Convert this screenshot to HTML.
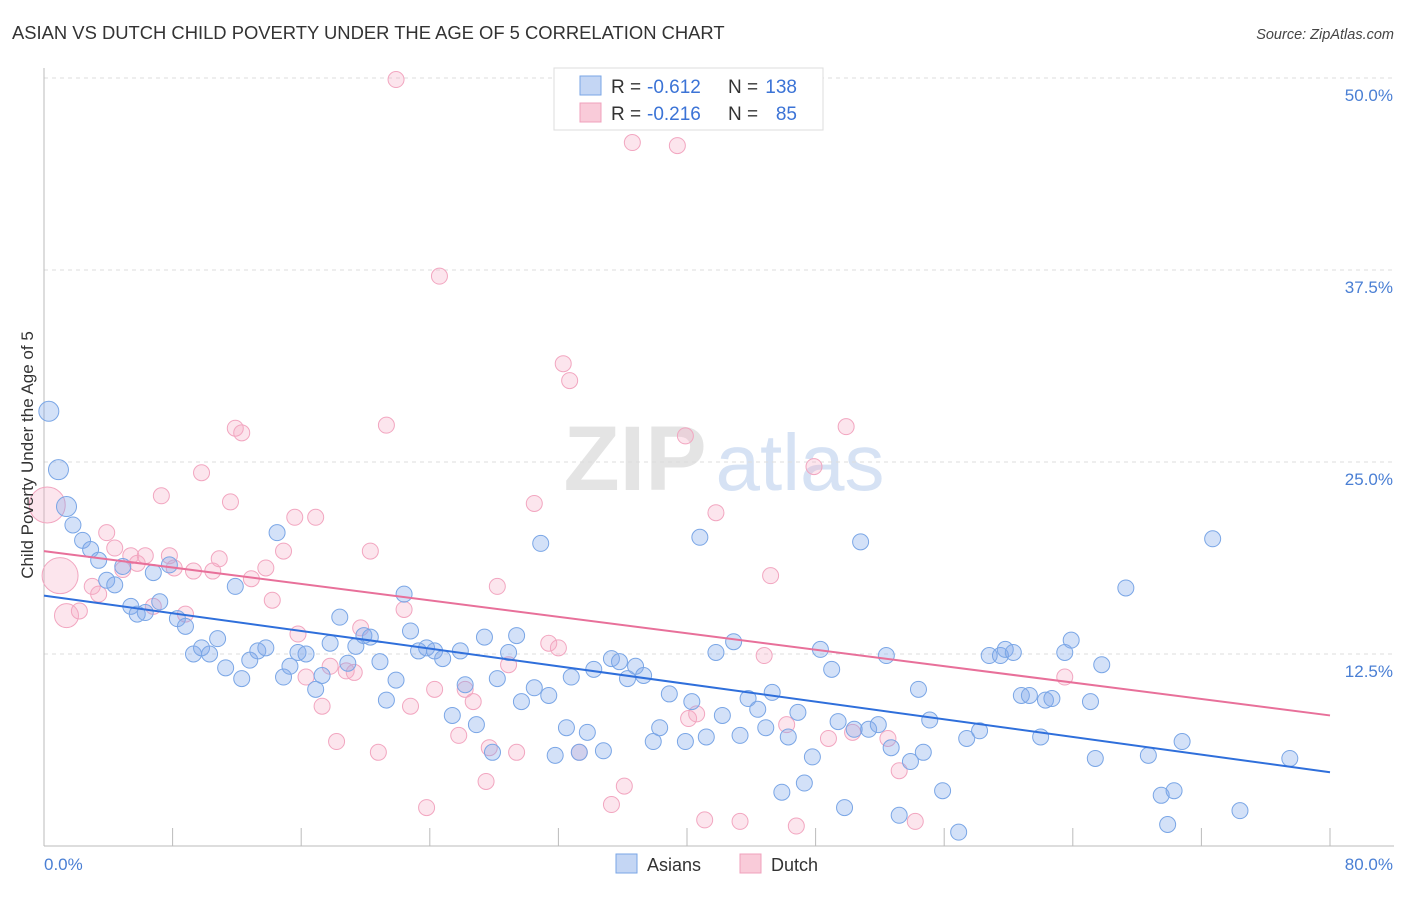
<!DOCTYPE html>
<html><head><meta charset="utf-8"><style>
body{margin:0;background:#fff;font-family:"Liberation Sans",sans-serif;}
svg text{font-family:"Liberation Sans",sans-serif;}
</style></head><body>
<svg id="chart" width="1406" height="892" viewBox="0 0 1406 892" xmlns="http://www.w3.org/2000/svg">
<text x="12" y="39" font-size="18.4" fill="#333">ASIAN VS DUTCH CHILD POVERTY UNDER THE AGE OF 5 CORRELATION CHART</text>
<text x="1394" y="39" font-size="14.5" fill="#444" text-anchor="end" font-style="italic">Source: ZipAtlas.com</text>
<g>
<text x="635" y="490" font-size="92" fill="#e4e4e4" text-anchor="middle" font-family="Liberation Serif" font-weight="bold">ZIP</text>
<text x="800" y="490" font-size="80" fill="#d6e2f4" text-anchor="middle">atlas</text>
</g>
<g id="grid"></g>
<g id="axes"></g>
<g id="pts"></g>
<g id="lines"></g>
<text transform="translate(33,455) rotate(-90)" font-size="17" fill="#333" text-anchor="middle">Child Poverty Under the Age of 5</text>
<text x="44" y="870" font-size="17" fill="#4a7fd4">0.0%</text>
<text x="1393" y="870" font-size="17" fill="#4a7fd4" text-anchor="end">80.0%</text>
<g>
<rect x="554" y="68" width="269" height="62" fill="#fff" stroke="#ddd"/>
<rect x="580" y="76" width="21" height="19" fill="#c4d6f4" stroke="#7aa6e6"/>
<rect x="580" y="103" width="21" height="19" fill="#f9cbd9" stroke="#f0a0bc"/>
<text x="611" y="93" font-size="19" fill="#333">R =</text>
<text x="647" y="93" font-size="19" fill="#3b73d6">-0.612</text>
<text x="728" y="93" font-size="19" fill="#333">N =</text>
<text x="797" y="93" font-size="19" fill="#3b73d6" text-anchor="end">138</text>
<text x="611" y="120" font-size="19" fill="#333">R =</text>
<text x="647" y="120" font-size="19" fill="#3b73d6">-0.216</text>
<text x="728" y="120" font-size="19" fill="#333">N =</text>
<text x="797" y="120" font-size="19" fill="#3b73d6" text-anchor="end">85</text>
</g>
<g>
<rect x="616" y="854" width="21" height="19" fill="#c4d6f4" stroke="#7aa6e6"/>
<text x="647" y="871" font-size="18" fill="#333">Asians</text>
</g>
<g>
<rect x="740" y="854" width="21" height="19" fill="#f9cbd9" stroke="#f0a0bc"/>
<text x="771" y="871" font-size="18" fill="#333">Dutch</text>
</g>
</svg>
<script>
const yTicks=[12.5,25,37.5,50];
const yTickLabels=["12.5%","25.0%","37.5%","50.0%"];
const xTicks=[0,8,16,24,32,40,48,56,64,72,80];
const asianX=[0.3,0.9,1.4,1.8,2.4,2.9,3.4,3.9,4.4,4.9,5.4,5.8,6.3,6.8,7.2,7.8,8.3,8.8,9.3,9.8,10.3,10.8,11.3,11.9,12.3,12.8,13.3,13.8,14.5,14.9,15.3,15.8,16.3,16.9,17.3,17.8,18.4,18.9,19.4,19.9,20.3,20.9,21.3,21.9,22.4,22.8,23.3,23.8,24.3,24.8,25.4,25.9,26.2,26.9,27.4,27.9,28.2,28.9,29.4,29.7,30.5,30.9,31.4,31.8,32.5,32.8,33.3,33.8,34.2,34.8,35.3,35.8,36.3,36.8,37.3,37.9,38.3,38.9,39.9,40.3,40.8,41.2,41.8,42.2,42.9,43.3,43.8,44.4,44.9,45.3,45.9,46.3,46.9,47.3,47.8,48.3,49.0,49.4,49.8,50.4,50.8,51.3,51.9,52.4,52.7,53.2,53.9,54.4,54.7,55.1,55.9,56.9,57.4,58.2,58.8,59.5,59.8,60.3,60.8,61.3,62.0,62.3,62.7,63.5,63.9,65.1,65.4,65.8,67.3,68.7,69.5,69.9,70.3,70.8,72.7,74.4,77.5];
const asianY=[28.3,24.5,22.1,20.9,19.9,19.3,18.6,17.3,17.0,18.2,15.6,15.1,15.2,17.8,15.9,18.3,14.8,14.3,12.5,12.9,12.5,13.5,11.6,16.9,10.9,12.1,12.7,12.9,20.4,11.0,11.7,12.6,12.5,10.2,11.1,13.2,14.9,11.9,13.0,13.7,13.6,12.0,9.5,10.8,16.4,14.0,12.7,12.9,12.7,12.2,8.5,12.7,10.5,7.9,13.6,6.1,10.9,12.6,13.7,9.4,10.3,19.7,9.8,5.9,7.7,11.0,6.1,7.4,11.5,6.2,12.2,12.0,10.9,11.7,11.1,6.8,7.7,9.9,6.8,9.4,20.1,7.1,12.6,8.5,13.3,7.2,9.6,8.9,7.7,10.0,3.5,7.1,8.7,4.1,5.8,12.8,11.5,8.1,2.5,7.6,19.8,7.6,7.9,12.4,6.4,2.0,5.5,10.2,6.1,8.2,3.6,0.9,7.0,7.5,12.4,12.4,12.8,12.6,9.8,9.8,7.1,9.5,9.6,12.6,13.4,9.4,5.7,11.8,16.8,5.9,3.3,1.4,3.6,6.8,20.0,2.3,5.7];
const dutchX=[0.2,1.0,1.4,2.2,3.0,3.4,3.9,4.4,4.9,5.4,5.8,6.3,6.8,7.3,7.8,8.1,8.8,9.3,9.8,10.5,10.9,11.6,11.9,12.3,12.9,13.8,14.2,14.9,15.6,15.8,16.3,16.9,17.3,17.8,18.2,18.8,19.3,19.7,20.3,20.8,21.3,21.9,22.4,22.8,23.8,24.3,24.6,25.8,26.2,26.7,27.5,27.7,28.2,28.9,29.4,30.5,31.4,32.0,32.3,32.7,33.3,35.3,36.1,36.6,39.4,39.9,40.1,40.6,41.1,41.8,43.3,44.8,45.2,46.2,46.8,47.9,48.8,49.9,50.3,52.5,53.2,54.2,63.5];
const dutchY=[22.2,17.6,15.0,15.3,16.9,16.4,20.4,19.4,18.0,18.9,18.4,18.9,15.6,22.8,18.9,18.1,15.1,17.9,24.3,17.9,18.7,22.4,27.2,26.9,17.4,18.1,16.0,19.2,21.4,13.8,11.0,21.4,9.1,11.7,6.8,11.4,11.3,14.2,19.2,6.1,27.4,49.9,15.4,9.1,2.5,10.2,37.1,7.2,10.2,9.4,4.2,6.4,16.9,11.8,6.1,22.3,13.2,12.9,31.4,30.3,6.1,2.7,3.9,45.8,45.6,26.7,8.3,8.6,1.7,21.7,1.6,12.4,17.6,7.9,1.3,24.7,7.0,27.3,7.4,7.0,4.9,1.6,11.0];
const asianTrend=[16.3,4.8];
const dutchTrend=[19.2,8.5];
const NS="http://www.w3.org/2000/svg";
const X0=44,X1=1330,Y0=846,YTOP=78;
function sx(v){return X0+(v/80)*(X1-X0);}
function sy(v){return Y0-(v/50)*(Y0-YTOP);}
function mk(tag,attrs,parent){const e=document.createElementNS(NS,tag);for(const k in attrs)e.setAttribute(k,attrs[k]);parent.appendChild(e);return e;}
const grid=document.getElementById('grid'),axes=document.getElementById('axes'),pts=document.getElementById('pts'),lines=document.getElementById('lines');
yTicks.forEach((t,i)=>{
 const l=mk('line',{x1:X0,x2:1392,y1:sy(t),y2:sy(t),stroke:'#ddd','stroke-dasharray':'4,4'},grid);
 
 
 const tx=mk('text',{x:1393,y:sy(t)+23,'font-size':17,fill:'#4a7fd4','text-anchor':'end'},grid);
 tx.textContent=yTickLabels[i];
 
 
});
const ya=mk('line',{x1:X0,x2:X0,y1:68,y2:Y0,stroke:'#bbb'},axes);


const xa=mk('line',{x1:X0,x2:1394,y1:Y0,y2:Y0,stroke:'#bbb'},axes);


xTicks.forEach(t=>{
 const l=mk('line',{x1:sx(t),x2:sx(t),y1:828,y2:Y0,stroke:'#bbb'},axes);
 
 
});
function drawPts(xs,ys,fill,stroke,name,big){
 xs.forEach((x,i)=>{
  const r=big(i);
  const c=mk('circle',{cx:sx(x),cy:sy(ys[i]),r:r,fill:fill,stroke:stroke,'stroke-width':1},pts);
  
  
 });
}
drawPts(dutchX,dutchY,'rgba(244,170,196,0.3)','#f2a6c0','dutch-point',i=>i<2?18:(i==2?12:8));
drawPts(asianX,asianY,'rgba(130,170,235,0.35)','#7aa6e6','asian-point',i=>i<3?10:8);
const bl=mk('line',{x1:sx(0),y1:sy(asianTrend[0]),x2:sx(80),y2:sy(asianTrend[1]),stroke:'#2f6fdb','stroke-width':2},lines);


const pl=mk('line',{x1:sx(0),y1:sy(dutchTrend[0]),x2:sx(80),y2:sy(dutchTrend[1]),stroke:'#e8709a','stroke-width':2},lines);


</script>
</body></html>
